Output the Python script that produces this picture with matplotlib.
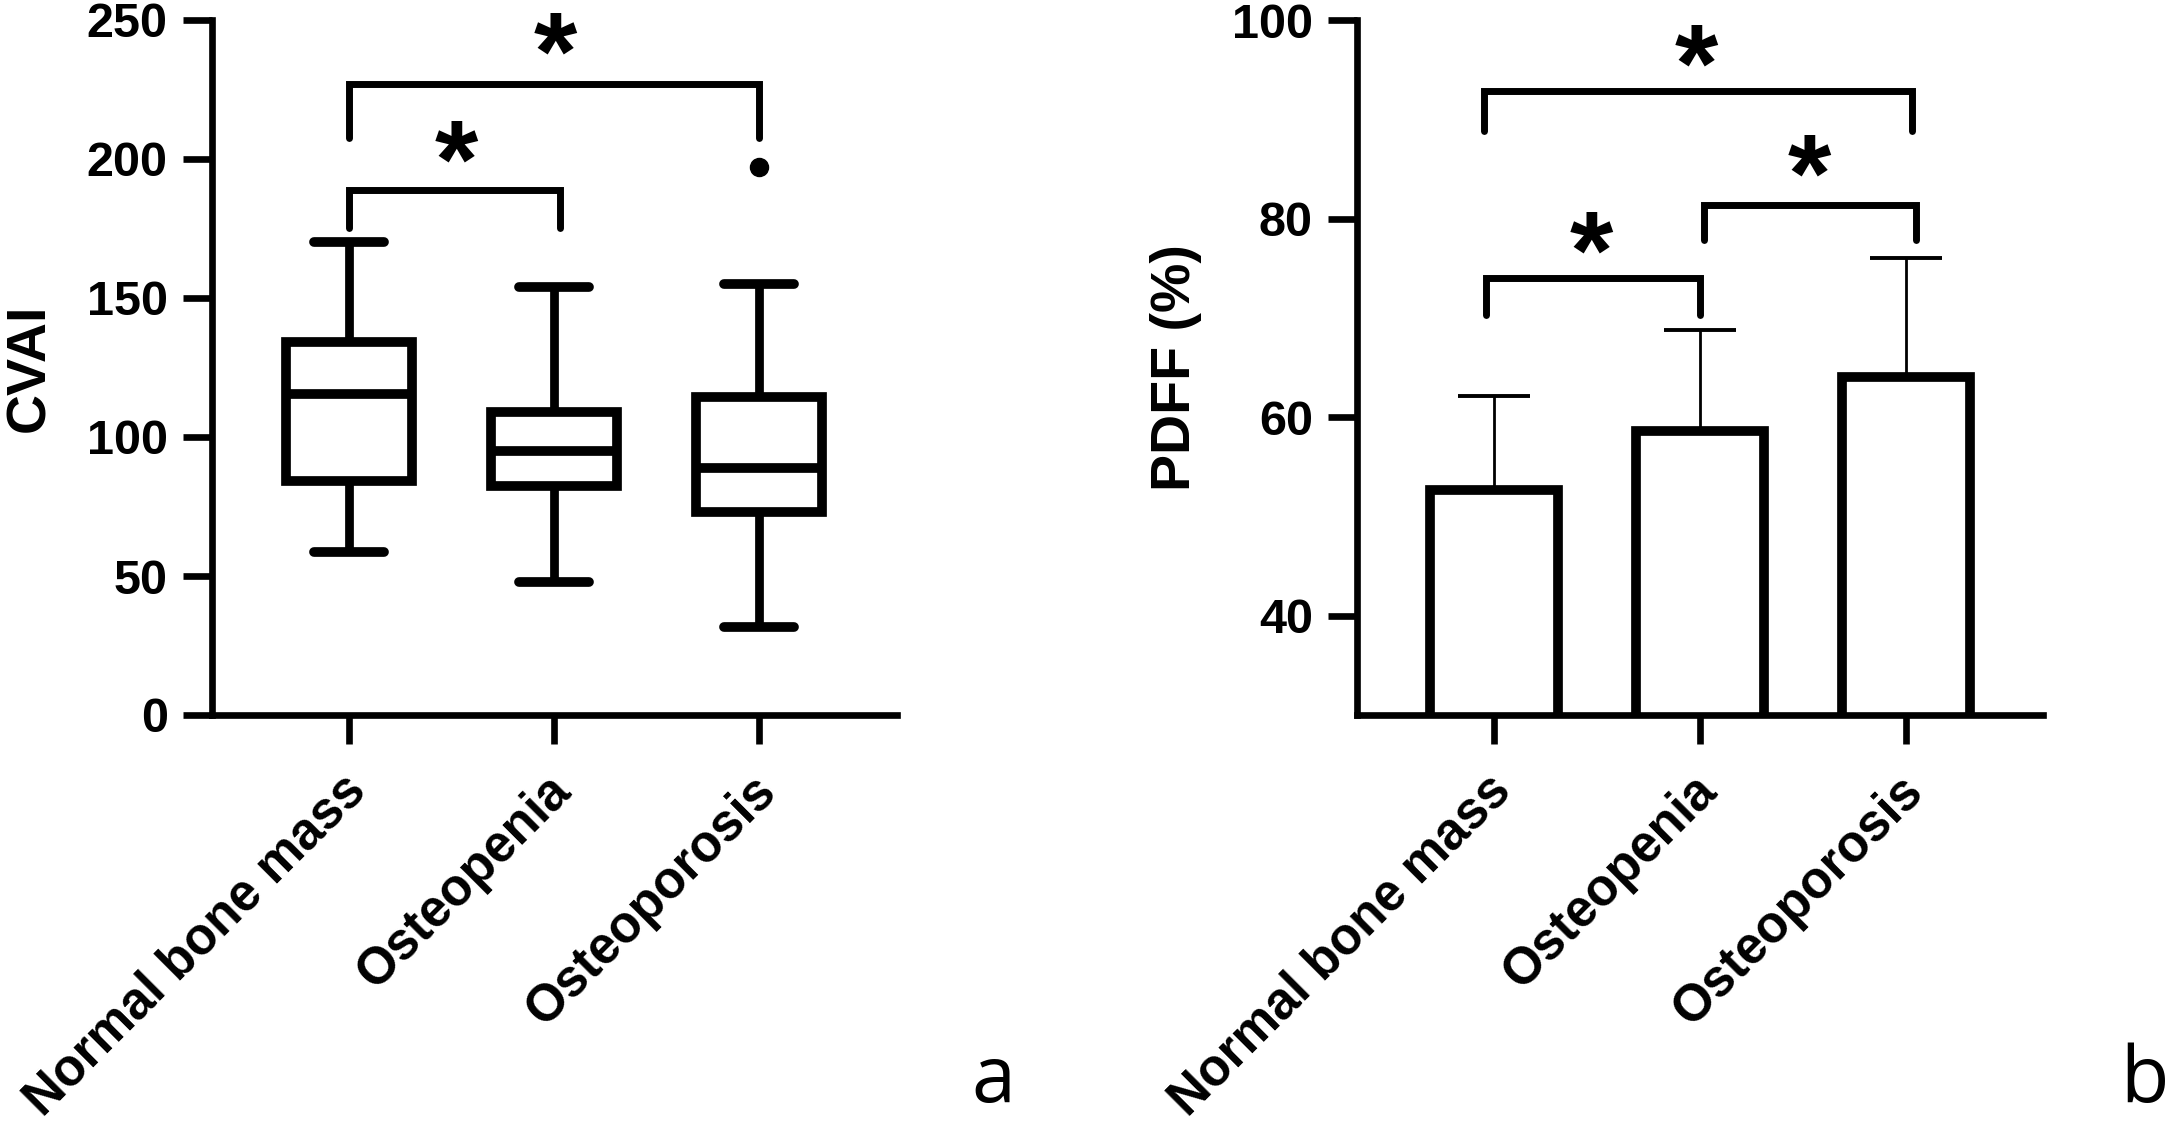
import matplotlib
matplotlib.use("Agg")
import matplotlib.pyplot as plt
import matplotlib.transforms as mtransforms

plt.rcParams['font.family'] = ['Liberation Sans', 'DejaVu Sans']
plt.rcParams['font.weight'] = 'bold'

# ---------------- data ----------------
groups = ['Normal bone mass', 'Osteopenia', 'Osteoporosis']

# panel a: CVAI box plot
cvai_whislo = [58.5, 48, 31.5]
cvai_q1 = [84, 82.5, 73]
cvai_med = [115.5, 95, 88.7]
cvai_q3 = [134, 109, 114.5]
cvai_whishi = [170, 154, 155]
cvai_fliers = [[], [], [197]]
cvai_ticks = [0, 50, 100, 150, 200, 250]

# significance brackets panel a
a_br_x1 = [0.0, 0.0]
a_br_x2 = [1.03, 2.0]
a_br_top = [189, 227]
a_br_leg = [175, 207.5]
a_star_x = [0.525, 1.005]
a_star_y = [206, 245]

# panel b: PDFF mean + SD
pdff_mean = [52.7, 58.6, 64.0]
pdff_sd = [9.4, 10.2, 12.0]
pdff_ticks = [40, 60, 80, 100]

b_br_x1 = [-0.04, 1.02, -0.05]
b_br_x2 = [1.0, 2.05, 2.03]
b_br_top = [74.0, 81.4, 92.8]
b_br_leg = [70.3, 77.8, 88.8]
b_star_x = [0.475, 1.53, 0.98]
b_star_y = [78.6, 86.3, 97.4]

# ---------------- style ----------------
W, H = 2165, 1126
fig = plt.figure(figsize=(W / 100, H / 100), dpi=100)

AX_LW = 4.8
BOX_LW = 7.0
BR_LW = 5.0
TICK_FS = 35
XLAB_FS = 37
YLAB_FS = 40
STAR_FS = 80

bottom = 1 - 715 / H
top = 1 - 20 / H
ax1 = fig.add_axes([212 / W, bottom, 684.5 / W, top - bottom])
ax2 = fig.add_axes([1357 / W, bottom, 686 / W, top - bottom])


def style_axes(ax):
    for s in ['top', 'right']:
        ax.spines[s].set_visible(False)
    for s in ['left', 'bottom']:
        ax.spines[s].set_linewidth(AX_LW)
        ax.spines[s].set_capstyle('projecting')
    ax.tick_params(axis='both', width=AX_LW, length=21, labelsize=TICK_FS)
    ax.tick_params(axis='y', pad=10.8)
    ax.tick_params(axis='x', pad=15.5, labelsize=XLAB_FS)
    ax.set_xticks(range(len(groups)))
    ax.set_xticklabels(groups, rotation=45, ha='right', va='top',
                       rotation_mode='anchor', fontweight='bold')
    shift = mtransforms.ScaledTranslation(-8 / 100, 0, fig.dpi_scale_trans)
    for lab in ax.get_xticklabels():
        lab.set_transform(lab.get_transform() + shift)
    for lab in ax.get_yticklabels():
        lab.set_fontweight('bold')


def brackets(ax, x1s, x2s, tops, legs, sx, sy):
    for x1, x2, t, l in zip(x1s, x2s, tops, legs):
        ax.plot([x1, x1, x2, x2], [l, t, t, l], color='black', lw=BR_LW,
                solid_capstyle='round', solid_joinstyle='miter',
                clip_on=False)
    trans = mtransforms.offset_copy(ax.transData, fig=fig, y=-0.5 * STAR_FS,
                                    units='points')
    for x, y in zip(sx, sy):
        ax.text(x, y, '*', ha='center', va='baseline', fontsize=STAR_FS,
                fontweight='bold', transform=trans, clip_on=False)


# ---------------- panel a ----------------
stats = []
for i in range(len(groups)):
    stats.append(dict(med=cvai_med[i], q1=cvai_q1[i], q3=cvai_q3[i],
                      whislo=cvai_whislo[i], whishi=cvai_whishi[i],
                      fliers=cvai_fliers[i]))
ax1.bxp(stats, positions=range(len(groups)), widths=0.615, capwidths=0.34,
        patch_artist=True, showfliers=True,
        boxprops=dict(facecolor='white', edgecolor='black', linewidth=BOX_LW),
        medianprops=dict(color='black', linewidth=BOX_LW, solid_capstyle='butt'),
        whiskerprops=dict(color='black', linewidth=BOX_LW * 0.9, solid_capstyle='butt'),
        capprops=dict(color='black', linewidth=BOX_LW, solid_capstyle='round'),
        flierprops=dict(marker='o', markerfacecolor='black',
                        markeredgecolor='black', markersize=13))
ax1.set_xlim(-0.668, 2.67)
ax1.set_ylim(0, 250)
ax1.set_yticks(cvai_ticks)
style_axes(ax1)
ax1.set_ylabel('CVAI', fontsize=YLAB_FS, fontweight='bold', va='center')
ax1.yaxis.set_label_coords(-0.266, 0.5)
brackets(ax1, a_br_x1, a_br_x2, a_br_top, a_br_leg, a_star_x, a_star_y)

# ---------------- panel b ----------------
xs = list(range(len(groups)))
ax2.bar(xs, pdff_mean, width=0.62, color='white', edgecolor='black',
        linewidth=BOX_LW, zorder=2)
ax2.errorbar(xs, pdff_mean, yerr=[[0] * len(xs), pdff_sd], fmt='none',
             ecolor='black', elinewidth=2.0, capsize=26, capthick=2.8,
             zorder=1)
ax2.set_xlim(-0.665, 2.665)
ax2.set_ylim(30, 100)
ax2.set_yticks(pdff_ticks)
style_axes(ax2)
ax2.set_ylabel('PDFF (%)', fontsize=YLAB_FS, fontweight='bold', va='center')
ax2.yaxis.set_label_coords(-0.264, 0.5)
brackets(ax2, b_br_x1, b_br_x2, b_br_top, b_br_leg, b_star_x, b_star_y)

# ---------------- panel letters ----------------
fig.text(971 / W, 1 - 1102 / H, 'a', ha='left', va='baseline', fontsize=57,
         fontweight='normal', family=['Open Sans', 'DejaVu Sans'])
fig.text(2120 / W, 1 - 1102 / H, 'b', ha='left', va='baseline', fontsize=57,
         fontweight='normal', family=['Open Sans', 'DejaVu Sans'])

fig.savefig('out.png', dpi=100)
